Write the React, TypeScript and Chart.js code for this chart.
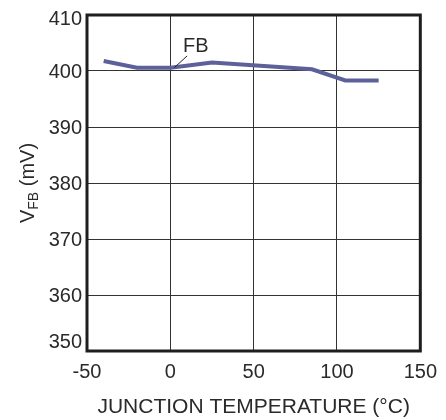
import React, { useEffect, useRef } from "react";
import { Chart, registerables } from "chart.js";

Chart.register(...registerables);

const temperatures = [-40, -20, 0, 25, 85, 105, 125];
const vfbValues = [401.8, 400.6, 400.6, 401.5, 400.3, 398.3, 398.3];
const xTicks = [-50, 0, 50, 100, 150];
const yTicks = [350, 360, 370, 380, 390, 400, 410];
const seriesLabel = "FB";
const labelAnchor = { x: 15.3, y: 404.3 };
const leaderFrom = { x: 2.4, y: 400.6 };
const leaderTo = { x: 10.1, y: 402.7 };

const FONT = "'Liberation Sans', Arial, sans-serif";
const TEXT = "#2a2a2a";

const framePlugin = {
  id: "frame",
  afterDraw(chart: any) {
    const { ctx, chartArea, scales } = chart;
    const xs = scales.x;
    const ys = scales.y;
    ctx.save();
    ctx.strokeStyle = "#1e1e1e";
    ctx.lineWidth = 3;
    ctx.strokeRect(chartArea.left, chartArea.top, chartArea.right - chartArea.left, chartArea.bottom - chartArea.top);

    // annotation
    ctx.strokeStyle = "#222";
    ctx.lineWidth = 1;
    ctx.beginPath();
    ctx.moveTo(xs.getPixelForValue(leaderFrom.x), ys.getPixelForValue(leaderFrom.y));
    ctx.lineTo(xs.getPixelForValue(leaderTo.x), ys.getPixelForValue(leaderTo.y));
    ctx.stroke();
    ctx.fillStyle = TEXT;
    ctx.font = `20px ${FONT}`;
    ctx.textAlign = "center";
    ctx.textBaseline = "middle";
    ctx.fillText(seriesLabel, xs.getPixelForValue(labelAnchor.x), ys.getPixelForValue(labelAnchor.y));

    // y tick labels, kept inside the frame at the ends
    ctx.textAlign = "right";
    ctx.font = `20px ${FONT}`;
    yTicks.forEach((v) => {
      let y = ys.getPixelForValue(v) + 1.5;
      y = Math.max(chartArea.top + 4, Math.min(chartArea.bottom - 9, y));
      ctx.fillText(String(v), chartArea.left - 5, y);
    });

    // y title with subscript
    const cy = (chartArea.top + chartArea.bottom) / 2;
    ctx.translate(28, cy);
    ctx.rotate(-Math.PI / 2);
    ctx.textAlign = "left";
    ctx.textBaseline = "middle";
    const big = `20px ${FONT}`;
    const small = `14px ${FONT}`;
    ctx.font = big;
    const wV = ctx.measureText("V").width;
    const wRest = ctx.measureText(" (mV)").width;
    ctx.font = small;
    const wSub = ctx.measureText("FB").width;
    const total = wV + wSub + wRest;
    let x0 = -total / 2;
    ctx.font = big;
    ctx.fillText("V", x0, 0);
    x0 += wV;
    ctx.font = small;
    ctx.fillText("FB", x0, 6);
    x0 += wSub;
    ctx.font = big;
    ctx.fillText(" (mV)", x0, 0);
    ctx.restore();
  },
};

export default function App() {
  const ref = useRef<HTMLCanvasElement>(null);
  useEffect(() => {
    document.body.style.margin = "0";
    const chart = new Chart(ref.current!, {
      type: "line",
      data: {
        datasets: [
          {
            label: seriesLabel,
            data: temperatures.map((t, i) => ({ x: t, y: vfbValues[i] })),
            borderColor: "#5c6199",
            borderWidth: 4,
            pointRadius: 0,
            tension: 0,
            fill: false,
          },
        ],
      },
      options: {
        animation: false,
        responsive: false,
        devicePixelRatio: 1,
        layout: { padding: { top: 15, right: 23, left: 0, bottom: 0 } },
        plugins: { legend: { display: false }, tooltip: { enabled: false } },
        scales: {
          x: {
            type: "linear",
            min: -50,
            max: 150,
            afterBuildTicks: (s: any) => {
              s.ticks = xTicks.map((v) => ({ value: v }));
            },
            afterFit: (s: any) => {
              s.height = 69;
            },
            grid: { color: "#333", lineWidth: 1, drawTicks: false },
            border: { display: false },
            ticks: { color: TEXT, font: { size: 20, family: FONT }, padding: 9, maxRotation: 0 },
            title: {
              display: true,
              text: "JUNCTION TEMPERATURE (°C)",
              color: TEXT,
              font: { size: 21, family: FONT },
              padding: { top: 5, bottom: 0 },
            },
          },
          y: {
            type: "linear",
            min: 350,
            max: 410,
            afterBuildTicks: (s: any) => {
              s.ticks = yTicks.map((v) => ({ value: v }));
            },
            afterFit: (s: any) => {
              s.width = 87;
            },
            grid: { color: "#333", lineWidth: 1, drawTicks: false },
            border: { display: false },
            ticks: { display: false },
          },
        },
      },
      plugins: [framePlugin],
    });
    return () => chart.destroy();
  }, []);
  return <canvas ref={ref} width={446} height={420} style={{ display: "block" }} />;
}
